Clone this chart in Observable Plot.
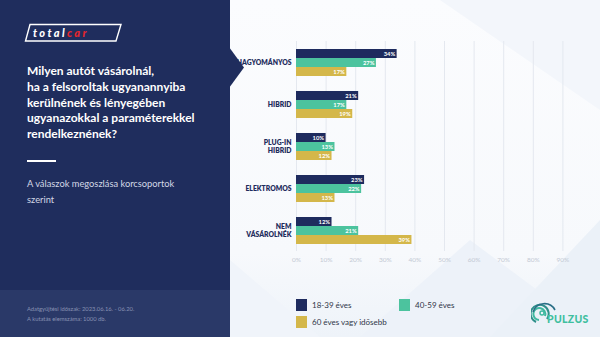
<!DOCTYPE html>
<html>
<head>
<meta charset="utf-8">
<script src="https://cdn.jsdelivr.net/npm/d3@7"></script>
<script src="https://cdn.jsdelivr.net/npm/@observablehq/plot@0.6"></script>
<style>
  html, body { margin: 0; padding: 0; }
  body { width: 600px; height: 337px; position: relative; overflow: hidden; font-family: Lato, "Open Sans", sans-serif; background: #f7f9fc; }
  #bg { position: absolute; left: 0; top: 0; width: 600px; height: 337px; }
  #left { position: absolute; left: 0; top: 0; width: 230px; height: 337px; background: #1f2d5d; }
  #footer { position: absolute; left: 0; top: 290px; width: 230px; height: 47px; background: #2a3968; }
  #footer div { position: absolute; left: 27px; font-size: 5.8px; color: #8891b2; white-space: nowrap; }
  #logo { position: absolute; left: 24px; top: 23px; }
  #title { position: absolute; left: 27px; top: 63px; width: 200px; color: #fff; font-weight: 700; font-size: 12px; line-height: 15.8px; white-space: nowrap; }
  #rule { position: absolute; left: 27px; top: 160px; width: 29px; height: 2px; background: #fff; }
  #subtitle { position: absolute; left: 27px; top: 176px; color: #d3d8e6; font-size: 9.3px; line-height: 16px; white-space: nowrap; }
  #chev { position: absolute; left: 229px; top: 47px; width: 15px; height: 41px; background: #1f2d5d; clip-path: polygon(0 0, 100% 50%, 0 100%); }
  #chart { position: absolute; left: 229px; top: 0; }
  #legend { position: absolute; left: 296px; top: 299px; width: 230px; height: 32px; }
  .li { position: absolute; display: flex; align-items: center; font-size: 8px; color: #2f3548; white-space: nowrap; }
  .sw { width: 11px; height: 12px; margin-right: 5px; }
  #pulzus { position: absolute; left: 531px; top: 300px; }
</style>
</head>
<body>
<svg id="bg" width="600" height="337">
  <defs>
    <linearGradient id="g1" x1="0" y1="0" x2="0" y2="1">
      <stop offset="0" stop-color="#fbfcfe"/>
      <stop offset="0.75" stop-color="#f7f9fc"/>
      <stop offset="1" stop-color="#eef3f9"/>
    </linearGradient>
  </defs>
  <rect x="230" y="0" width="370" height="337" fill="url(#g1)"/>
  <polygon points="440,0 600,0 600,110" fill="#f3f6fb"/>
  <polygon points="360,337 470,240 600,337" fill="#edf2f9"/>
  <polygon points="230,337 230,260 320,337" fill="#f0f4fa"/>
  <polygon points="490,337 600,220 600,337" fill="#ebf1f8"/>
</svg>
<div id="left">
  <svg id="logo" width="100" height="20">
    <polygon points="6,1.5 97,1.5 92,18 1.5,18" fill="none" stroke="#fff" stroke-width="1.4"/>
    <text x="9" y="14" font-family="Lato, sans-serif" font-style="italic" font-weight="900" font-size="11" letter-spacing="2.4" fill="#fff">total<tspan fill="#e3262d">car</tspan></text>
  </svg>
  <div id="title">Milyen autót vásárolnál,<br>ha a felsoroltak ugyanannyiba<br>kerülnének és lényegében<br>ugyanazokkal a paraméterekkel<br>rendelkeznének?</div>
  <div id="rule"></div>
  <div id="subtitle">A válaszok megoszlása korcsoportok<br>szerint</div>
  <div id="footer">
    <div style="top:15px">Adatgyűjtési időszak: 2023.06.16. - 06.20.</div>
    <div style="top:25px">A kutatás elemszáma: 1000 db.</div>
  </div>
</div>
<div id="chev"></div>
<div id="chart"></div>
<div id="legend"></div>
<svg id="pulzus" width="60" height="28">
  <path d="M5,22 A9,9 0 1 1 16,19" fill="none" stroke="#2e8f8a" stroke-width="2"/>
  <path d="M8,20 A6,6 0 1 1 14,16" fill="none" stroke="#3fb9a0" stroke-width="2"/>
  <path d="M2,12 A12,12 0 0 1 24,10" fill="none" stroke="#2a6f86" stroke-width="1.6"/>
  <circle cx="11" cy="13" r="2" fill="none" stroke="#3fb9a0" stroke-width="1.5"/>
  <text x="16" y="23" font-family="Lato, sans-serif" font-weight="900" font-size="10.5" letter-spacing="0.3" fill="#3fbf9f">PULZUS</text>
</svg>
<script>
// ---- data ----
const categories = ["Hagyományos", "Hibrid", "Plug-in hibrid", "Elektromos", "Nem vásárolnék"];
const categoryLabels = ["HAGYOMÁNYOS", "HIBRID", "PLUG-IN\nHIBRID", "ELEKTROMOS", "NEM\nVÁSÁROLNÉK"];
const series = ["18-39 éves", "40-59 éves", "60 éves vagy idősebb"];
const colors = ["#1e2b5e", "#4cc39e", "#d4b74a"];
const values18_39 = [34, 21, 10, 23, 12];
const values40_59 = [27, 17, 13, 22, 21];
const values60plus = [17, 19, 12, 13, 39];
const xTicks = [0, 10, 20, 30, 40, 50, 60, 70, 80, 90];

const seriesValues = [values18_39, values40_59, values60plus];
const rows = [];
categories.forEach((c, i) => {
  series.forEach((s, j) => rows.push({category: c, series: s, value: seriesValues[j][i]}));
});
const labelRows = categories.map((c, i) => ({category: c, label: categoryLabels[i]}));

const chart = Plot.plot({
  width: 371,
  height: 280,
  marginLeft: 67,
  marginRight: 8,
  marginTop: 48,
  marginBottom: 35,
  style: {background: "transparent", fontFamily: "Lato, sans-serif"},
  x: {domain: [0, 100], axis: null},
  y: {domain: series, axis: null, paddingInner: 0, paddingOuter: 0},
  fy: {domain: categories, axis: null, paddingInner: 0.333, paddingOuter: 0},
  color: {domain: series, range: colors},
  marks: [
    Plot.ruleX(xTicks, {stroke: "#e4e8ef", strokeWidth: 1, insetTop: -7, insetBottom: -7}),
    Plot.barX(rows, {x: "value", y: "series", fy: "category", fill: "series"}),
    Plot.text(rows, {x: "value", y: "series", fy: "category", text: d => d.value + "%", textAnchor: "end", dx: -2, fill: "white", fontSize: 5.8, fontWeight: 700}),
    Plot.text(labelRows, {fy: "category", text: "label", frameAnchor: "left", textAnchor: "end", dx: -5, fill: "#1f2d5d", fontSize: 6.8, fontWeight: 800, lineHeight: 1.15}),
    Plot.axisX(xTicks, {anchor: "bottom", tickSize: 0, tickPadding: 13, tickFormat: d => d + "%", fill: "#c3c9d4", fontSize: 6.5, facetAnchor: "bottom", label: null})
  ]
});
document.getElementById("chart").appendChild(chart);

// legend from the series arrays
const legend = document.getElementById("legend");
const pos = [[0, 0], [103, 0], [0, 17]];
series.forEach((s, i) => {
  const el = document.createElement("div");
  el.className = "li";
  el.style.left = pos[i][0] + "px";
  el.style.top = pos[i][1] + "px";
  el.innerHTML = `<span class="sw" style="background:${colors[i]}"></span>${s}`;
  legend.appendChild(el);
});
</script>
</body>
</html>
